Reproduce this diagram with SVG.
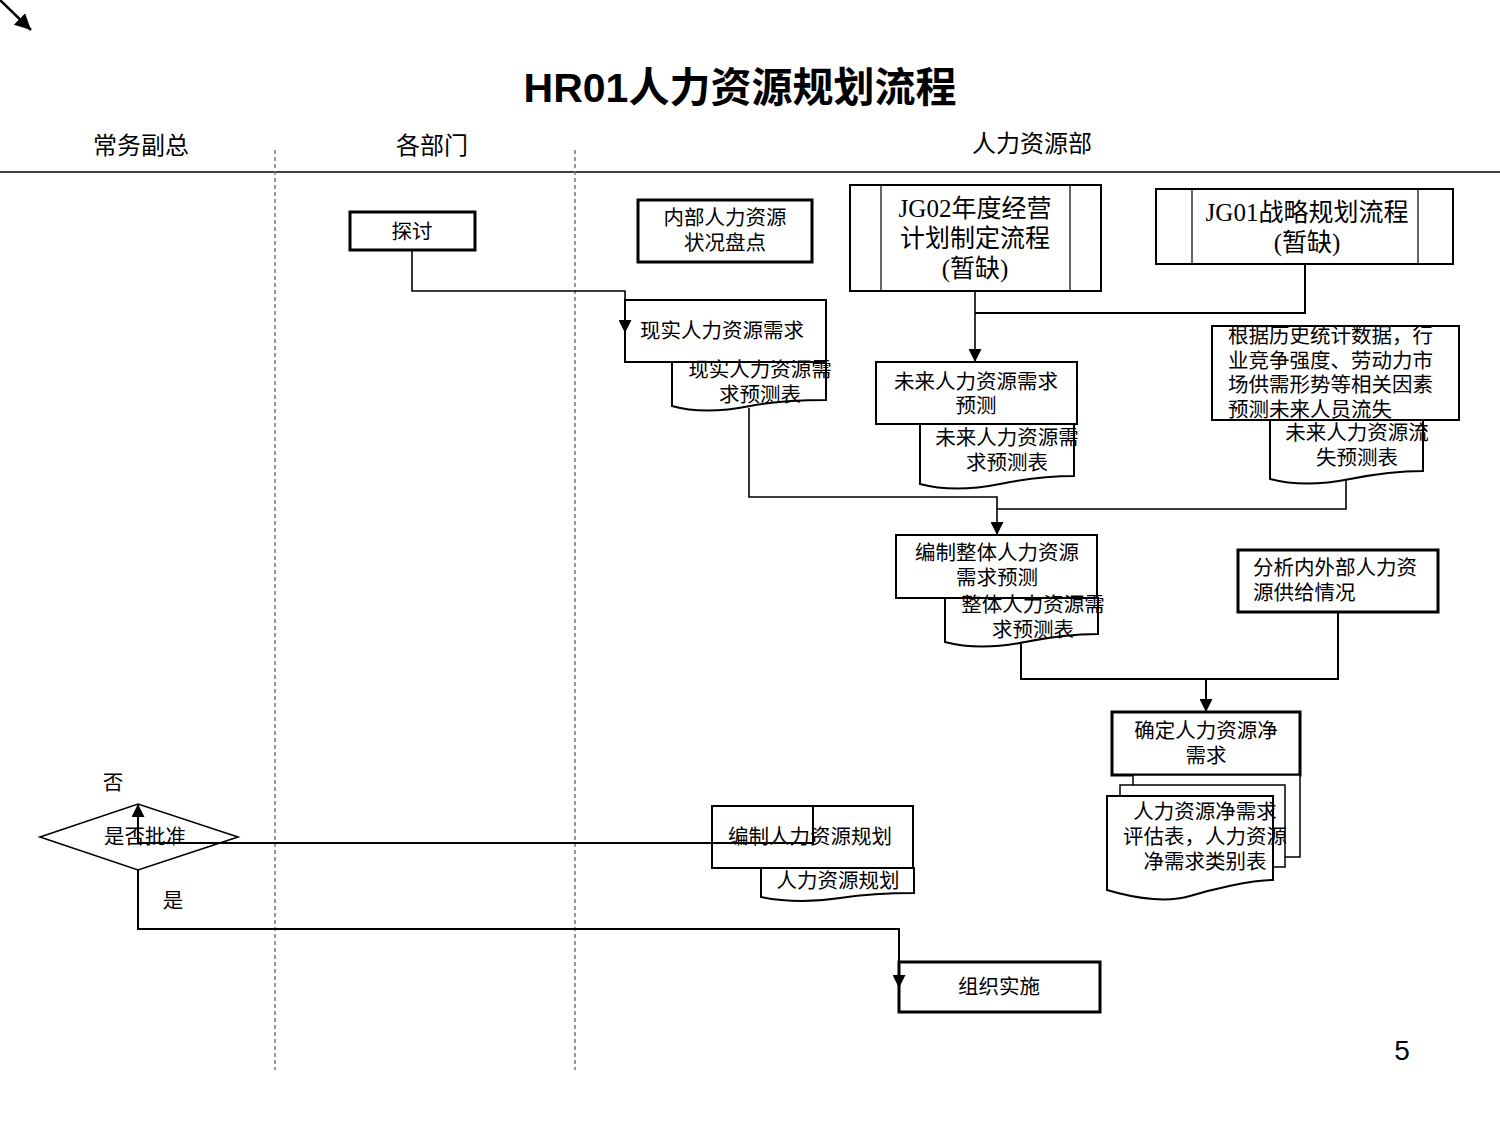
<svg xmlns="http://www.w3.org/2000/svg" width="1500" height="1125" viewBox="0 0 1500 1125">
<defs>
<marker id="arr" viewBox="0 0 12 12" refX="12" refY="6" markerWidth="13" markerHeight="13" markerUnits="userSpaceOnUse" orient="auto"><path d="M0,0 L12,6 L0,12 Z" fill="#000"/></marker>
<marker id="arr2" viewBox="0 0 12 12" refX="12" refY="6" markerWidth="16" markerHeight="16" markerUnits="userSpaceOnUse" orient="auto"><path d="M0,0 L12,6 L0,12 Z" fill="#000"/></marker>
<style>
.t{font-family:"Liberation Sans","Noto Sans CJK SC",sans-serif;font-size:20.5px;fill:#000;}
.c{text-anchor:middle;}
.s{font-family:"Liberation Serif","Noto Sans CJK SC",serif;font-size:25px;text-anchor:middle;fill:#000;}
.b{fill:#fff;stroke:#000;stroke-width:2;}
.bt{fill:#fff;stroke:#000;stroke-width:3;}
.l{fill:none;stroke:#000;stroke-width:1.6;}
.ln{fill:none;stroke:#000;stroke-width:2;}
.h{font-family:"Liberation Sans","Noto Sans CJK SC",sans-serif;font-size:24px;text-anchor:middle;fill:#000;}
</style>
</defs>
<rect width="1500" height="1125" fill="#fff"/>
<g id="header">
<line x1="0" y1="0" x2="31" y2="30" stroke="#000" stroke-width="2.5" marker-end="url(#arr2)"/>
<text x="740" y="102" font-family="Liberation Sans,Noto Sans CJK SC,sans-serif" font-size="41" font-weight="bold" text-anchor="middle">HR01人力资源规划流程</text>
<text class="h" x="141" y="154">常务副总</text>
<text class="h" x="432" y="154">各部门</text>
<text class="h" x="1032" y="152">人力资源部</text>
<line x1="0" y1="172" x2="1500" y2="172" stroke="#000" stroke-width="1.5"/>
<line x1="275" y1="150" x2="275" y2="1070" stroke="#777" stroke-width="1.5" stroke-dasharray="4,3"/>
<line x1="575" y1="150" x2="575" y2="1070" stroke="#777" stroke-width="1.5" stroke-dasharray="4,3"/>
<text x="1402" y="1060" font-family="Liberation Sans,sans-serif" font-size="28" text-anchor="middle">5</text>
</g>
<g id="n-tantao"><rect class="bt" x="350" y="212" width="125" height="38"/><text class="t c" x="412" y="239">探讨</text></g>
<g id="n-neibu"><rect class="bt" x="638" y="200" width="174" height="62"/><text class="t c" x="725" y="225">内部人力资源</text><text class="t c" x="725" y="250">状况盘点</text></g>
<g id="n-jg02"><rect class="b" x="850" y="185" width="251" height="106"/><line x1="881" y1="185" x2="881" y2="291" stroke="#000" stroke-width="1.2"/><line x1="1070" y1="185" x2="1070" y2="291" stroke="#000" stroke-width="1.2"/><text class="s" x="975" y="217">JG02年度经营</text><text class="s" x="975" y="247">计划制定流程</text><text class="s" x="975" y="277">(暂缺)</text></g>
<g id="n-jg01"><rect class="b" x="1156" y="189" width="297" height="75"/><line x1="1192" y1="189" x2="1192" y2="264" stroke="#000" stroke-width="1.2"/><line x1="1418" y1="189" x2="1418" y2="264" stroke="#000" stroke-width="1.2"/><text class="s" x="1307" y="221">JG01战略规划流程</text><text class="s" x="1307" y="251">(暂缺)</text></g>
<g id="n-xianshi"><rect class="b" x="625" y="300" width="201" height="62"/><text class="t c" x="722" y="338">现实人力资源需求</text>
<path class="b" d="M672,362 V406 C700,414 730,410 750,406 S800,400 826,400 V362 Z"/><text class="t c" x="760" y="377">现实人力资源需</text><text class="t c" x="760" y="402">求预测表</text></g>
<g id="n-weilai"><rect class="b" x="876" y="362" width="201" height="62"/><text class="t c" x="976" y="389">未来人力资源需求</text><text class="t c" x="976" y="413">预测</text>
<path class="b" d="M920,424 V484 C950,492 980,488 1000,484 S1050,476 1074,476 V424 Z"/><text class="t c" x="1007" y="445">未来人力资源需</text><text class="t c" x="1007" y="470">求预测表</text></g>
<g id="n-genju"><rect class="b" x="1212" y="326" width="247" height="94"/><text class="t" x="1228" y="343">根据历史统计数据，行</text><text class="t" x="1228" y="368">业竞争强度、劳动力市</text><text class="t" x="1228" y="392">场供需形势等相关因素</text><text class="t" x="1228" y="417">预测未来人员流失</text>
<path class="b" d="M1270,420 V479 C1300,487 1330,483 1350,479 S1400,471 1423,471 V420 Z"/><text class="t c" x="1357" y="440">未来人力资源流</text><text class="t c" x="1357" y="465">失预测表</text></g>
<g id="n-bianzhi"><rect class="b" x="896" y="535" width="201" height="63"/><text class="t c" x="997" y="560">编制整体人力资源</text><text class="t c" x="997" y="585">需求预测</text>
<path class="b" d="M945,598 V642 C975,650 1005,646 1025,642 S1075,634 1098,634 V598 Z"/><text class="t c" x="1033" y="612">整体人力资源需</text><text class="t c" x="1033" y="637">求预测表</text></g>
<g id="n-fenxi"><rect class="bt" x="1238" y="550" width="200" height="62"/><text class="t" x="1253" y="575">分析内外部人力资</text><text class="t" x="1253" y="600">源供给情况</text></g>
<g id="n-queding"><rect class="bt" x="1112" y="712" width="188" height="63"/><text class="t c" x="1206" y="738">确定人力资源净</text><text class="t c" x="1206" y="763">需求</text>
<rect x="1133" y="775" width="167" height="82" fill="#fff" stroke="#000" stroke-width="1.5"/>
<rect x="1120" y="785" width="165" height="82" fill="#fff" stroke="#000" stroke-width="1.5"/>
<path class="b" d="M1107,796 V890 C1140,900 1170,902 1190,896 S1250,880 1273,880 V796 Z"/><text class="t c" x="1205" y="819">人力资源净需求</text><text class="t c" x="1205" y="844">评估表，人力资源</text><text class="t c" x="1205" y="869">净需求类别表</text></g>
<g id="n-guihua"><rect class="b" x="712" y="806" width="201" height="62"/><text class="t c" x="810" y="844">编制人力资源规划</text>
<path class="b" d="M761,868 V897 C790,903 820,901 840,898 S890,893 914,893 V868 Z"/><text class="t c" x="838" y="888">人力资源规划</text></g>
<g id="n-pizhun"><path fill="none" stroke="#000" stroke-width="1.6" d="M40,837 L138,804 L238,837 L138,870 Z"/><text class="t c" x="145" y="844">是否批准</text><text class="t c" x="113" y="790">否</text><text class="t c" x="173" y="908">是</text></g>
<g id="n-shishi"><rect class="bt" x="899" y="962" width="201" height="50"/><text class="t c" x="999" y="994">组织实施</text></g>
<g id="connectors">
<path class="l" d="M412,250 V291 H625 V333" marker-end="url(#arr)"/>
<path class="l" d="M975,291 V362" marker-end="url(#arr)"/>
<path class="ln" d="M1305,264 V313 H975"/>
<path class="l" d="M749,408 V497 H997 V535" marker-end="url(#arr)"/>
<path class="l" d="M1346,480 V509 H997"/>
<path class="ln" d="M1021,644 V679 H1206 V712" marker-end="url(#arr)"/>
<path class="ln" d="M1338,612 V679 H1206"/>
<path class="ln" d="M813,806 V843 H138 V804" marker-end="url(#arr)"/>
<path class="ln" d="M138,870 V929 H899 V988" marker-end="url(#arr)"/>
</g>
</svg>
